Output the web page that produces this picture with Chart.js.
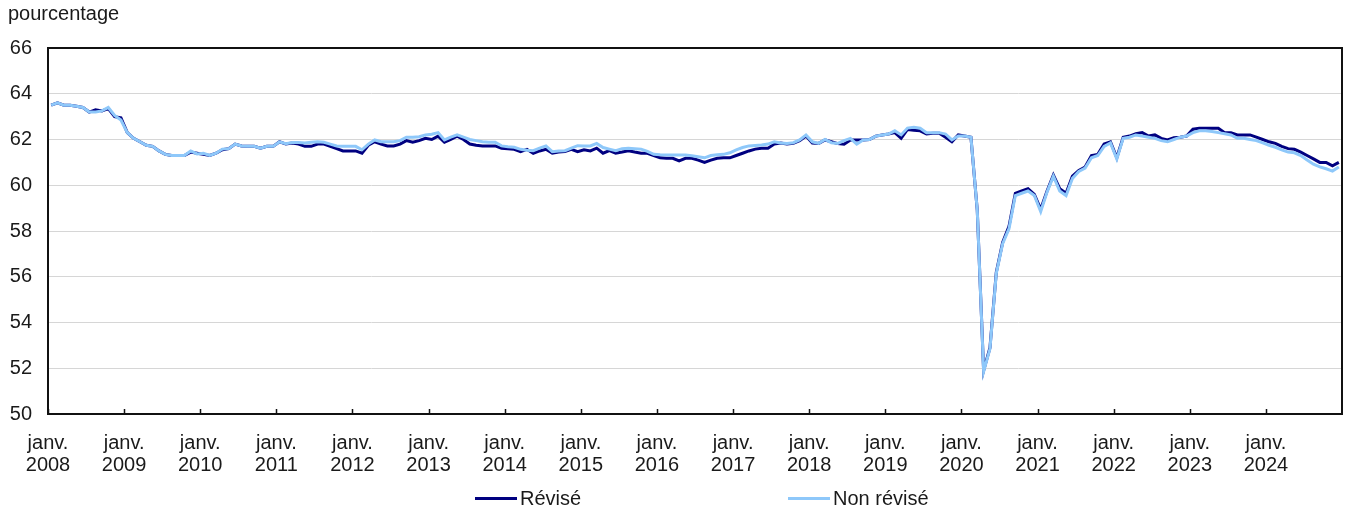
<!DOCTYPE html>
<html lang="fr">
<head>
<meta charset="utf-8">
<title>Taux d'emploi, révisé et non révisé</title>
<script src="https://cdn.jsdelivr.net/npm/chart.js@4.4.1/dist/chart.umd.min.js"></script>
<style>
  html, body { margin: 0; padding: 0; background: #fff; }
  #wrap { position: relative; width: 1348px; height: 512px; }
  #legend { position: absolute; top: 486px; left: 0; width: 1348px; height: 24px;
    font: 20px 'Liberation Sans', Arial, sans-serif; color: #1a1a1a; }
  .item { position: absolute; top: 0; height: 24px; display: flex; align-items: center; white-space: nowrap; }
  .swatch { display: inline-block; width: 42px; height: 3px; margin-right: 3px; }
</style>
</head>
<body>
<div id="wrap">
  <canvas id="chart"></canvas>
  <div id="legend"></div>
</div>
<script>
// monthly series, janv. 2008 -> déc. 2024
const FONT = "'Liberation Sans', Arial, sans-serif";
const FSIZE = 20;
const TEXT = '#1a1a1a';

const years = [2008, 2009, 2010, 2011, 2012, 2013, 2014, 2015, 2016,
               2017, 2018, 2019, 2020, 2021, 2022, 2023, 2024];
const monthLabel = 'janv.';
const yUnit = 'pourcentage';
const yMin = 50, yMax = 66, yStep = 2;

const seriesNames = ['Révisé', 'Non révisé'];
const seriesColors = ['#000080', '#8ec8fa'];

const revise = [
  63.5, 63.6, 63.5, 63.5, 63.45, 63.4, 63.2, 63.3, 63.25, 63.35, 63.0, 62.95,    // 2008
  62.3, 62.05, 61.9, 61.75, 61.7, 61.5, 61.35, 61.3, 61.3, 61.3, 61.45, 61.4,    // 2009
  61.35, 61.3, 61.4, 61.55, 61.6, 61.8, 61.72, 61.7, 61.7, 61.62, 61.7, 61.7,    // 2010
  61.9, 61.8, 61.85, 61.8, 61.7, 61.7, 61.8, 61.8, 61.7, 61.6, 61.5, 61.5,       // 2011
  61.5, 61.4, 61.75, 61.9, 61.8, 61.72, 61.72, 61.8, 61.95, 61.88, 61.95, 62.05, // 2012
  62.0, 62.15, 61.88, 62.0, 62.15, 62.0, 61.8, 61.75, 61.72, 61.72, 61.72, 61.62, // 2013
  61.6, 61.57, 61.47, 61.57, 61.4, 61.5, 61.57, 61.4, 61.45, 61.47, 61.57, 61.47, // 2014
  61.55, 61.5, 61.62, 61.4, 61.51, 61.4, 61.45, 61.51, 61.45, 61.4, 61.4, 61.3,  // 2015
  61.2, 61.18, 61.18, 61.07, 61.18, 61.18, 61.1, 61.0, 61.1, 61.18, 61.2, 61.2,  // 2016
  61.3, 61.4, 61.5, 61.58, 61.62, 61.62, 61.8, 61.85, 61.8, 61.83, 61.95, 62.15, // 2017
  61.85, 61.83, 61.98, 61.9, 61.82, 61.79, 61.98, 61.98, 61.98, 62.0, 62.15, 62.2, // 2018
  62.24, 62.3, 62.05, 62.44, 62.4, 62.38, 62.24, 62.27, 62.27, 62.1, 61.9, 62.2, // 2019
  62.15, 62.1, 58.9, 51.9, 52.9, 56.2, 57.5, 58.2, 59.65, 59.75, 59.85, 59.6,    // 2020
  58.95, 59.75, 60.45, 59.85, 59.65, 60.4, 60.65, 60.8, 61.3, 61.35, 61.8, 61.9, // 2021
  61.2, 62.1, 62.15, 62.25, 62.3, 62.15, 62.2, 62.05, 61.98, 62.08, 62.1, 62.15, // 2022
  62.45, 62.49, 62.49, 62.49, 62.49, 62.3, 62.3, 62.2, 62.2, 62.2, 62.1, 62.0,   // 2023
  61.9, 61.83, 61.7, 61.6, 61.57, 61.45, 61.3, 61.15, 61.0, 61.0, 60.85, 61.0    // 2024
];

const nonRevise = [
  63.5, 63.6, 63.5, 63.5, 63.45, 63.4, 63.2, 63.2, 63.25, 63.4, 63.05, 62.85,    // 2008
  62.3, 62.05, 61.9, 61.75, 61.7, 61.5, 61.35, 61.3, 61.3, 61.3, 61.5, 61.37,    // 2009
  61.4, 61.3, 61.4, 61.58, 61.6, 61.8, 61.72, 61.7, 61.7, 61.62, 61.7, 61.7,     // 2010
  61.9, 61.82, 61.87, 61.87, 61.85, 61.88, 61.9, 61.88, 61.8, 61.72, 61.7, 61.7, // 2011
  61.7, 61.55, 61.8, 61.98, 61.9, 61.9, 61.9, 61.95, 62.1, 62.1, 62.12, 62.2,    // 2012
  62.23, 62.3, 61.98, 62.1, 62.2, 62.1, 62.0, 61.95, 61.9, 61.88, 61.88, 61.72,  // 2013
  61.68, 61.66, 61.57, 61.53, 61.51, 61.62, 61.72, 61.47, 61.5, 61.51, 61.62, 61.73, // 2014
  61.72, 61.72, 61.83, 61.65, 61.58, 61.51, 61.6, 61.62, 61.6, 61.58, 61.48, 61.35, // 2015
  61.33, 61.32, 61.32, 61.32, 61.32, 61.29, 61.25, 61.2, 61.3, 61.33, 61.35, 61.42, // 2016
  61.55, 61.65, 61.72, 61.74, 61.76, 61.8, 61.9, 61.85, 61.83, 61.86, 61.98, 62.2, // 2017
  61.9, 61.83, 62.0, 61.86, 61.83, 61.95, 62.05, 61.8, 61.98, 62.0, 62.15, 62.2, // 2018
  62.24, 62.38, 62.2, 62.5, 62.53, 62.49, 62.3, 62.3, 62.3, 62.24, 61.98, 62.15, // 2019
  62.15, 62.1, 58.9, 51.85, 52.85, 56.15, 57.45, 58.1, 59.55, 59.65, 59.75, 59.55, // 2020
  58.85, 59.7, 60.4, 59.75, 59.55, 60.3, 60.6, 60.75, 61.2, 61.3, 61.7, 61.85,   // 2021
  61.15, 62.05, 62.1, 62.2, 62.15, 62.1, 62.05, 61.95, 61.9, 62.0, 62.1, 62.15,  // 2022
  62.3, 62.38, 62.38, 62.35, 62.3, 62.25, 62.2, 62.05, 62.05, 62.0, 61.95, 61.85, // 2023
  61.75, 61.66, 61.55, 61.45, 61.42, 61.3, 61.1, 60.92, 60.8, 60.72, 60.62, 60.8 // 2024
];

const pts = arr => arr.map((v, i) => ({ x: i, y: v }));

// black box round the plot + short inward ticks at each janv.
const frame = {
  id: 'frame',
  afterDraw(chart) {
    const { ctx, chartArea: a, scales: { x } } = chart;
    ctx.save();
    ctx.strokeStyle = '#111';
    ctx.lineWidth = 1.5;
    ctx.beginPath();
    years.forEach((_, k) => {
      const px = Math.round(x.getPixelForValue(12 * k - 0.5)) + 0.5;
      ctx.moveTo(px, a.bottom);
      ctx.lineTo(px, a.bottom - 5);
    });
    ctx.stroke();
    ctx.lineWidth = 2;
    ctx.strokeRect(a.left, a.top, a.right - a.left, a.bottom - a.top);
    ctx.restore();
  }
};

new Chart(document.getElementById('chart'), {
  type: 'line',
  data: {
    datasets: [
      { label: seriesNames[0], data: pts(revise), borderColor: seriesColors[0],
        borderWidth: 3, order: 1 },
      { label: seriesNames[1], data: pts(nonRevise), borderColor: seriesColors[1],
        borderWidth: 3, order: 0 },
    ]
  },
  options: {
    animation: false,
    responsive: true, maintainAspectRatio: false,
    elements: { point: { radius: 0 }, line: { tension: 0, backgroundColor: 'transparent' } },
    layout: { padding: { left: 8, right: 6, top: 0, bottom: 0 } },
    plugins: {
      legend: { display: false },
      tooltip: { enabled: false },
      title: {
        display: true, text: yUnit, align: 'start', color: TEXT,
        font: { family: FONT, size: FSIZE, weight: 'normal', lineHeight: 1.2 },
        padding: { top: 2.5, bottom: 21.5 },
      },
    },
    scales: {
      x: {
        type: 'linear', min: -0.5, max: revise.length - 0.5,
        afterBuildTicks: s => { s.ticks = years.map((_, k) => ({ value: 12 * k - 0.5 })); },
        afterFit: s => { s.height = 98; },
        grid: { display: false },
        border: { display: false },
        ticks: {
          autoSkip: false, maxRotation: 0, padding: 10.5, color: TEXT,
          font: { family: FONT, size: FSIZE, lineHeight: 22 / FSIZE },
          callback: (v, i) => [monthLabel, String(years[i])],
        },
      },
      y: {
        min: yMin, max: yMax,
        afterFit: s => { s.width = 40; },
        grid: { color: '#d6d6d6', lineWidth: 1, drawTicks: false },
        border: { display: false },
        ticks: { stepSize: yStep, padding: 16, color: TEXT, font: { family: FONT, size: FSIZE } },
      },
    },
  },
  plugins: [frame],
});

// legend, spaced like the original
const legendLeft = [475, 788];
const legend = document.getElementById('legend');
seriesNames.forEach((name, i) => {
  const item = document.createElement('div');
  item.className = 'item';
  item.style.left = legendLeft[i] + 'px';
  item.innerHTML = `<span class="swatch" style="background:${seriesColors[i]}"></span>${name}`;
  legend.appendChild(item);
});
</script>
</body>
</html>
